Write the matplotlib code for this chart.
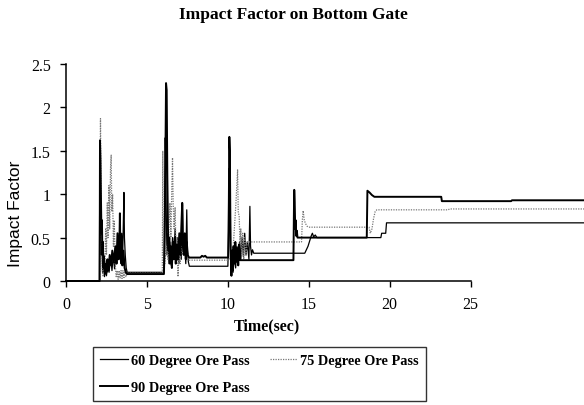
import matplotlib
matplotlib.use("Agg")
import matplotlib.pyplot as plt

# ---------- データ ----------
t_60 = [0, 2.06, 2.08, 2.11, 2.14, 2.18, 2.22, 2.26, 2.32, 2.38, 2.44, 2.50, 2.58, 2.66, 2.76,
        2.84, 2.92, 3.00, 3.08, 3.14, 3.20, 3.26, 3.32, 3.38, 3.44, 3.50, 3.55, 3.58, 3.61,
        3.66, 3.72, 3.78, 6.05,
        6.09, 6.13, 6.16, 6.20, 6.24, 6.30, 6.36, 6.42, 6.50, 6.58, 6.66, 6.74, 6.82, 6.90,
        6.98, 7.05, 7.12, 7.20, 7.24, 7.32, 7.40, 7.46, 7.50, 7.56, 7.62, 10.0,
        10.05, 10.08, 10.11, 10.15, 10.20, 10.26, 10.32, 10.40, 10.48, 10.56, 10.64, 10.72,
        10.80, 10.88, 10.96, 11.04, 11.12, 11.20, 11.30, 11.36, 11.40, 11.46, 11.52, 11.60,
        14.75, 14.85, 14.95, 15.05, 15.15, 15.22, 15.30, 15.40, 15.50, 19.45, 19.50, 19.75,
        19.80, 32]
v_60 = [0, 0, 0.90, 1.20, 0.60, 0.30, 0.45, 0.10, 0.25, 0.05, 0.18, 0.06, 0.20, 0.10, 0.28,
        0.12, 0.30, 0.14, 0.35, 0.20, 0.50, 0.25, 0.40, 0.20, 0.55, 0.28, 0.75, 1.02, 0.50,
        0.30, 0.15, 0.10, 0.10,
        0.80, 1.65, 1.30, 0.70, 0.30, 0.55, 0.20, 0.45, 0.18, 0.50, 0.25, 0.60, 0.30, 0.50,
        0.20, 0.45, 0.25, 0.88, 0.35, 0.50, 0.20, 0.82, 0.35, 0.22, 0.17, 0.17,
        0.60, 1.30, 0.90, 0.40, 0.15, 0.32, 0.10, 0.30, 0.15, 0.40, 0.20, 0.45,
        0.25, 0.50, 0.28, 0.55, 0.30, 0.45, 0.25, 0.86, 0.40, 0.30, 0.36, 0.32,
        0.32, 0.36, 0.40, 0.46, 0.52, 0.55, 0.51, 0.53, 0.50, 0.50, 0.55, 0.55,
        0.67, 0.67]

t_75 = [0, 2.08, 2.10, 2.13, 2.16, 2.20, 2.25, 2.30, 2.35, 2.40, 2.45, 2.50, 2.55, 2.60, 2.65,
        2.70, 2.75, 2.79, 2.83, 2.88, 2.93, 2.98, 3.04, 3.10, 3.16, 3.22, 3.28, 3.34, 3.40,
        3.46, 3.52, 3.58, 3.64, 3.70, 3.78, 5.95,
        5.98, 6.02, 6.10, 6.20, 6.30, 6.36, 6.42, 6.48, 6.54, 6.58, 6.62, 6.68, 6.74, 6.80,
        6.86, 6.92, 6.98, 7.05, 7.12, 7.20, 7.30, 7.40, 7.50, 7.60, 10.0,
        10.30, 10.40, 10.50, 10.55, 10.60, 10.64, 10.70, 10.75, 10.80, 10.86, 10.92, 10.98,
        11.05, 11.12, 11.20, 14.55, 14.60, 14.65, 14.72, 14.80, 14.90, 15.00, 18.72, 18.80,
        18.90, 19.00, 19.10, 19.20, 23.60, 23.70, 32]
v_75 = [0, 0, 1.00, 1.87, 1.20, 0.40, 0.10, 0.05, 0.30, 0.15, 0.60, 0.30, 0.90, 0.50, 1.10,
        0.60, 1.30, 1.45, 0.80, 1.00, 0.40, 0.70, 0.20, 0.05, 0.12, 0.02, 0.12, 0.03, 0.12,
        0.03, 0.12, 0.04, 0.12, 0.05, 0.09, 0.09,
        1.50, 0.30, 0.20, 0.40, 0.25, 0.60, 0.90, 0.50, 1.10, 1.42, 0.90, 0.60, 0.85, 0.30,
        0.50, 0.05, 0.35, 0.20, 0.40, 0.30, 0.45, 0.30, 0.35, 0.24, 0.24,
        0.30, 0.60, 0.90, 1.10, 1.28, 0.80, 0.74, 0.40, 0.60, 0.30, 0.55, 0.25,
        0.50, 0.30, 0.45, 0.45, 0.70, 0.81, 0.70, 0.66, 0.63, 0.62, 0.62, 0.55,
        0.60, 0.72, 0.80, 0.82, 0.82, 0.83, 0.83]

t_90 = [0, 2.08, 2.10, 2.13, 2.16, 2.19, 2.22, 2.25, 2.28, 2.31, 2.35, 2.40, 2.45, 2.50, 2.56,
        2.62, 2.70, 2.78, 2.86, 2.95, 3.05, 3.12, 3.18, 3.25, 3.30, 3.33, 3.36, 3.42, 3.48,
        3.55, 3.62, 3.70, 3.78, 6.05,
        6.10, 6.15, 6.18, 6.22, 6.26, 6.30, 6.34, 6.38, 6.42, 6.48, 6.54, 6.60, 6.66, 6.72,
        6.78, 6.85, 6.92, 7.00, 7.06, 7.12, 7.18, 7.22, 7.28, 7.34, 7.40, 7.46, 7.52, 7.60,
        8.30, 8.40, 8.50, 8.60, 8.70, 10.02,
        10.06, 10.09, 10.12, 10.15, 10.18, 10.22, 10.26, 10.30, 10.35, 10.40, 10.46, 10.52,
        10.58, 10.64, 10.70, 10.76, 14.05, 14.08, 14.10, 14.13, 14.16, 14.19, 14.22, 14.26,
        14.30, 18.58, 18.62, 18.75, 18.90, 19.05, 23.18, 23.22, 27.50, 27.55, 32]
v_90 = [0, 0, 1.62, 1.40, 0.95, 0.55, 0.70, 0.30, 0.45, 0.15, 0.28, 0.08, 0.20, 0.10, 0.25,
        0.12, 0.30, 0.18, 0.35, 0.22, 0.40, 0.20, 0.55, 0.25, 0.45, 0.78, 0.30, 0.42, 0.18,
        0.35, 0.15, 0.10, 0.08, 0.08,
        0.50, 1.60, 2.28, 2.20, 1.20, 0.60, 0.35, 0.50, 0.20, 0.40, 0.15, 0.45, 0.25, 0.50,
        0.20, 0.42, 0.25, 0.55, 0.30, 0.60, 0.90, 0.40, 0.30, 0.55, 0.25, 0.45, 0.30, 0.27,
        0.27, 0.29, 0.28, 0.29, 0.27, 0.27,
        0.90, 1.66, 1.50, 0.80, 0.30, 0.06, 0.35, 0.12, 0.40, 0.20, 0.45, 0.22,
        0.38, 0.18, 0.42, 0.24, 0.24, 0.80, 1.05, 0.90, 0.60, 0.70, 0.52, 0.58,
        0.50, 0.50, 1.04, 1.02, 0.99, 0.97, 0.97, 0.92, 0.92, 0.93, 0.93]

labels = ["60 Degree Ore Pass", "75 Degree Ore Pass", "90 Degree Ore Pass"]
x_ticks = [0, 5, 10, 15, 20, 25]
y_ticks = [0, 0.5, 1, 1.5, 2, 2.5]
y_tick_labels = ["0", "0.5", "1", "1.5", "2", "2.5"]

# ---------- 描画 ----------
serif = "Liberation Serif"
fig = plt.figure(figsize=(5.84, 4.06), dpi=100)
ax = fig.add_axes([66/584, 124/406, 518/584, 217/406])

l60, = ax.plot(t_60, v_60, color="black", lw=0.9, label=labels[0])
l75, = ax.plot(t_75, v_75, color="#777777", lw=0.9, ls=(0, (1, 1)), label=labels[1])
l90, = ax.plot(t_90, v_90, color="black", lw=1.4, label=labels[2])
for ln in (l60, l75, l90):
    ln.set_clip_on(False)

ax.set_xlim(0, 32)
ax.set_ylim(0, 2.5)
for s in ("top", "right"):
    ax.spines[s].set_visible(False)
ax.spines["left"].set_bounds(0, 2.5)
ax.spines["bottom"].set_bounds(0, 25)
ax.spines["left"].set_linewidth(1.1)
ax.spines["bottom"].set_linewidth(1.1)

ax.set_xticks(x_ticks)
ax.set_xticklabels([str(v) for v in x_ticks], family=serif, fontsize=11.5)
ax.set_yticks(y_ticks)
ax.set_yticklabels(y_tick_labels, family=serif, fontsize=11.5)
ax.tick_params(direction="out", length=4, width=1, pad=7)

fig.text(0.502, 1 - 15/406, "Impact Factor on Bottom Gate", ha="center", va="center",
         family=serif, fontweight="bold", fontsize=12.5)
fig.text(0.027, 1 - 214/406, "Impact Factor", rotation=90, ha="center", va="center",
         family="Liberation Sans", fontsize=12.5)
fig.text(267/584, 1 - 326/406, "Time(sec)", ha="center", va="center",
         family=serif, fontweight="bold", fontsize=11.5)

leg = fig.legend([l60, l90, l75], [labels[0], labels[2], labels[1]],
                 loc="upper left", bbox_to_anchor=(93/584, 1 - 348/406), ncol=2,
                 prop={"family": serif, "weight": "bold", "size": 10.3},
                 frameon=True, fancybox=False, edgecolor="black",
                 handlelength=1.95, handletextpad=0.2, columnspacing=1.4,
                 labelspacing=0.95, borderpad=0.5, borderaxespad=0)
leg.get_frame().set_linewidth(1.0)

fig.savefig("out.png", dpi=100)
